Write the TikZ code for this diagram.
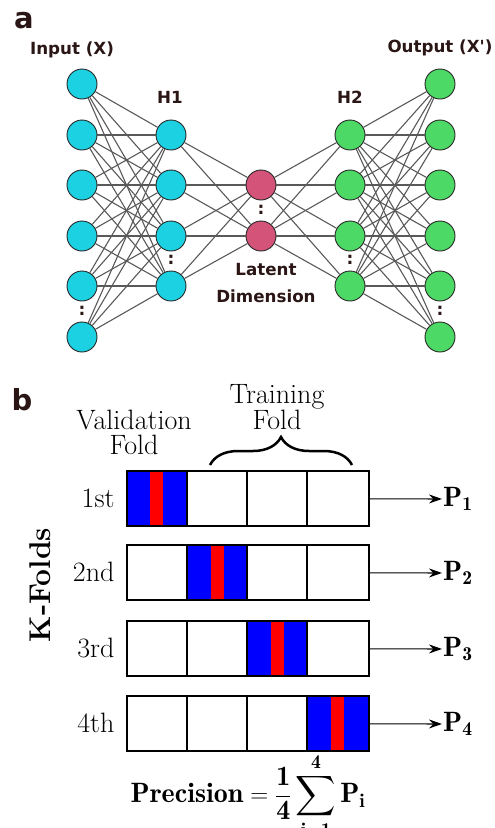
\documentclass[tikz,border=0pt]{standalone}
\usepackage{amsmath, amssymb}
\usepackage{fontspec}
\newfontfamily\netfont{DejaVu Sans}
\usetikzlibrary{arrows.meta, decorations.pathreplacing}

\definecolor{incyan}{HTML}{1CD2E2}
\definecolor{latpink}{HTML}{D35478}
\definecolor{outgreen}{HTML}{4DD965}
\definecolor{txtdark}{HTML}{2B1616}
\definecolor{foldblue}{HTML}{0000FF}
\definecolor{foldred}{HTML}{FF0000}

\tikzset{
    neuron/.style={circle, draw=black!85, line width=0.9pt, minimum size=30pt, inner sep=0pt},
    edge/.style={draw=black!65, line width=1.1pt},
    netlabel/.style={font=\netfont\bfseries\fontsize{16.7}{18}\selectfont, text=txtdark, align=center},
    netdots/.style={font=\netfont\bfseries\fontsize{17}{18}\selectfont, text=txtdark},
    panel/.style={font=\netfont\bfseries\fontsize{29}{30}\selectfont, text=txtdark},
    serif/.style={font=\fontsize{28}{25}\selectfont, align=center},
    foldbox/.style={draw, line width=2.2pt, minimum width=242pt, minimum height=55pt, inner sep=0pt, anchor=north west},
    foldline/.style={line width=2.2pt},
    parrow/.style={-{Stealth[length=13pt, width=9pt]}, line width=1.1pt}
}

\begin{document}
\begin{tikzpicture}[x=1pt, y=-1pt]
    \useasboundingbox (0, 0) rectangle (495, 828);

    % panel a: network
    \node[panel] (pa) at (24, 21) {a};
    \foreach \i/\y in {1/84, 2/135, 3/185, 4/236, 5/286, 6/337} {
        \node[neuron, fill=incyan] (in\i) at (82, \y) {};
        \node[neuron, fill=outgreen] (out\i) at (440, \y) {};
    }
    \foreach \i/\y in {1/135, 2/185, 3/236, 4/286} {
        \node[neuron, fill=incyan] (hA\i) at (171, \y) {};
        \node[neuron, fill=outgreen] (hB\i) at (350, \y) {};
    }
    \node[neuron, fill=latpink] (lat1) at (261, 185) {};
    \node[neuron, fill=latpink] (lat2) at (261, 236) {};

    \foreach \i in {1,...,6}
        \foreach \j in {1,...,4} {
            \draw[edge] (in\i) -- (hA\j);
            \draw[edge] (hB\j) -- (out\i);
        }
    \foreach \j in {1,...,4}
        \foreach \k in {1,2} {
            \draw[edge] (hA\j) -- (lat\k);
            \draw[edge] (lat\k) -- (hB\j);
        }

    \node[netdots] (din) at (82, 311) {:};
    \node[netdots] (dhA) at (171, 260) {:};
    \node[netdots] (dlat) at (261, 210) {:};
    \node[netdots] (dhB) at (350, 260) {:};
    \node[netdots] (dout) at (440, 311) {:};

    \node[netlabel] (tin) at (72, 50) {Input (X)};
    \node[netlabel] (tout) at (440, 48) {Output (X')};
    \node[netlabel] (thA) at (170, 97) {H1};
    \node[netlabel] (thB) at (350, 97) {H2};
    \node[netlabel, font=\netfont\bfseries\fontsize{16.7}{27}\selectfont] (tlat) at (266, 283) {Latent\\Dimension};

    % panel b: k-fold
    \node[panel] (pb) at (22, 400) {b};
    \node[serif] (tval) at (134, 432) {Validation\\Fold};
    \node[serif] (ttrain) at (277, 407) {Training\\Fold};
    \draw[line width=2.5pt, decorate, decoration={brace, amplitude=28pt}] (210, 465) -- (352, 465);
    \node[serif, font=\bfseries\fontsize{30}{30}\selectfont, rotate=90] (kf) at (40, 585) {K-Folds};

    % validation folds
    \foreach \xa/\ya in {126/470, 187/544, 247/620, 307/695} {
        \fill[foldblue] (\xa, \ya) rectangle +(61, 55);
        \fill[foldred] (\xa + 24, \ya) rectangle +(13, 55);
    }
    \foreach \fd/\ya/\ord in {1/470/1st, 2/544/2nd, 3/620/3rd, 4/695/4th} {
        \node[foldbox] (row\fd) at (126, \ya) {};
        \draw[foldline] (187, \ya) -- +(0, 55);
        \draw[foldline] (247, \ya) -- +(0, 55);
        \draw[foldline] (307, \ya) -- +(0, 55);
        \node[serif, anchor=east] (lab\fd) at (118, \ya + 28) {\ord};
    }
    \node[serif, anchor=west, inner sep=1pt] (p1) at (442, 499) {$\mathbf{P}_{\mathbf{1}}$};
    \node[serif, anchor=west, inner sep=1pt] (p2) at (442, 573) {$\mathbf{P}_{\mathbf{2}}$};
    \node[serif, anchor=west, inner sep=1pt] (p3) at (442, 649) {$\mathbf{P}_{\mathbf{3}}$};
    \node[serif, anchor=west, inner sep=1pt] (p4) at (442, 724) {$\mathbf{P}_{\mathbf{4}}$};
    \foreach \fd in {1,...,4}
        \draw[parrow] (row\fd) -- (p\fd);

    \node[serif] (prec) at (248, 796) {$\displaystyle \mathbf{Precision} = \mathbf{\frac{1}{4}}\sum_{\mathbf{i=1}}^{\mathbf{4}} \mathbf{P}_{\mathbf{i}}$};
\end{tikzpicture}
\end{document}
